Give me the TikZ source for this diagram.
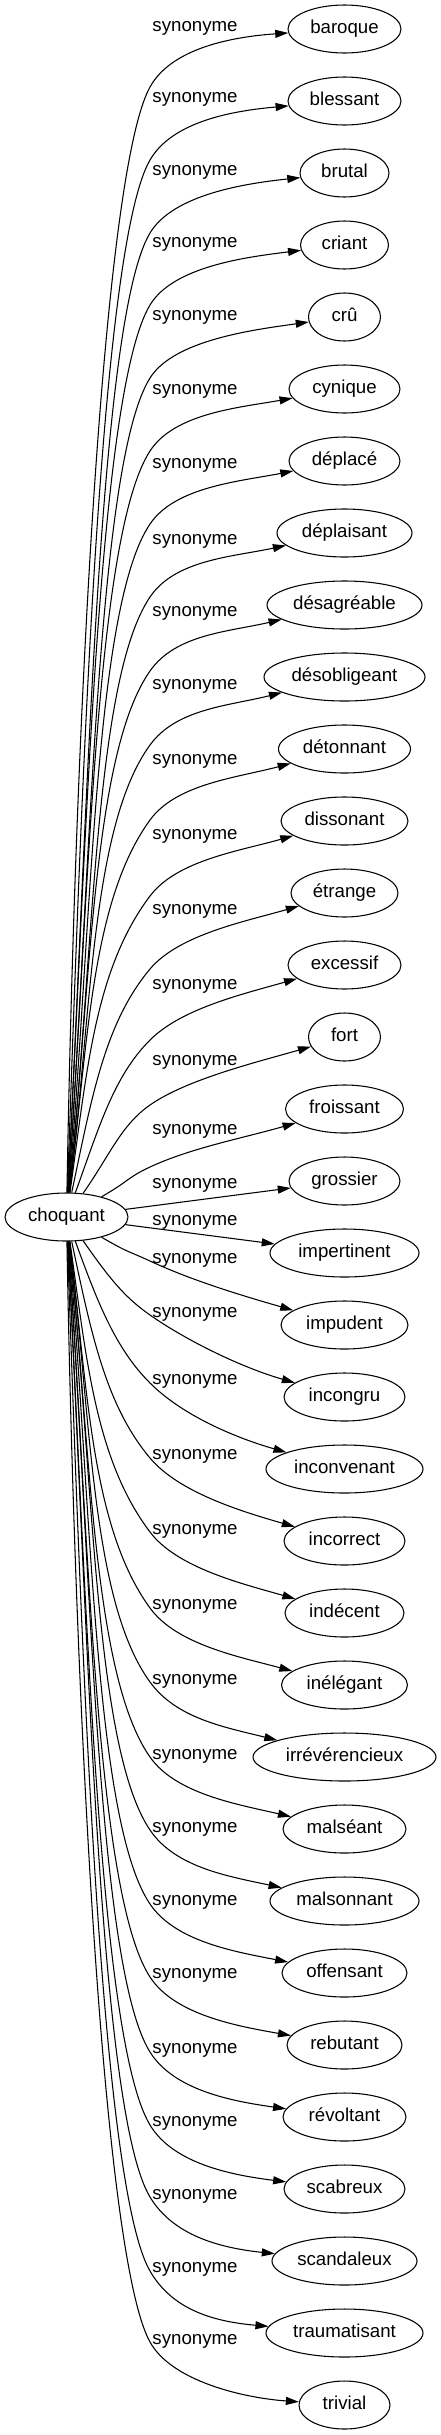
\documentclass[tikz,border=0pt]{standalone}
\usepackage{fontspec}
\setmainfont{Liberation Sans}
\usetikzlibrary{arrows.meta,shapes.geometric}
\begin{document}
\begin{tikzpicture}[x=0.75pt,y=0.75pt,
  every node/.style={font=\fontsize{14pt}{16pt}\selectfont, text height=10pt, text depth=3pt},
  word/.style={draw, ellipse, line width=0.8pt, inner sep=0pt, minimum height=36pt},
  lab/.style={inner sep=0pt},
  syn/.style={draw, line width=0.8pt, -{Triangle[length=9.75pt,width=6pt]}}]
\useasboundingbox (0,0) rectangle (441,-2435);
\node[word, minimum width=92.25pt] (ch) at (66.5,-1217) {choquant};
\foreach \qk/\qtxt/\qwd/\qly in {0/baroque/113/29, 1/blessant/113/100, 2/brutal/89/173, 3/criant/88/245,
  4/crû/72/318, 5/cynique/111/392, 6/déplacé/111/466, 7/déplaisant/135/542, 8/désagréable/155/614,
  9/désobligeant/161/687, 10/détonnant/132/762, 11/dissonant/127/837, 12/étrange/107/912,
  13/excessif/113/987, 14/fort/72/1063, 15/froissant/118/1132, 16/grossier/111/1186,
  17/impertinent/149/1223, 18/impudent/127/1261, 19/incongru/121/1315, 20/inconvenant/157/1382,
  21/incorrect/121/1457, 22/indécent/119/1532, 23/inélégant/126/1607, 24/irrévérencieux/183/1682,
  25/malséant/123/1757, 26/malsonnant/149/1830, 27/offensant/125/1903, 28/rebutant/115/1976,
  29/révoltant/123/2051, 30/scabreux/121/2124, 31/scandaleux/145/2197, 32/traumatisant/157/2270,
  33/trivial/91/2342}{
  \node[word, minimum width=\qwd*0.75pt] (t\qk) at (344.5,{-(29+72*\qk)}) {\qtxt};
  \node[lab] (l\qk) at (195,{-(\qly-2)}) {synonyme};
}
\foreach \qk in {0,...,33}{
  \ifnum\qk<17
    \pgfmathtruncatemacro\qm{16-\qk}
  \else
    \pgfmathtruncatemacro\qm{\qk-17}
  \fi
  \ifnum\qm=0
    \draw[syn] (ch) -- (t\qk);
  \else
    \pgfmathtruncatemacro\qbe{{0,30,55,70,78,82,83,83,84,84,85,86,86,87,87,88,89}[\qm]}
    \pgfmathtruncatemacro\qth{{0,25,35,45,50,53,54,54,55,56,56,57,58,59,59,60,61}[\qm]}
    \pgfmathtruncatemacro\qph{{0,16,16,16,16,16,15,14,13,12,11,10,8,7,6,5,4}[\qm]}
    \ifnum\qk<17
      \pgfmathtruncatemacro\qoff{{0,58,68,75,76,75,71,68,66,64,63,62,61,60,60,59,58}[\qm]}
      \pgfmathsetmacro\qwy{29+72*\qk+\qoff}
      \pgfmathtruncatemacro\qao{\qbe}
      \pgfmathtruncatemacro\qai{180+\qth}
      \pgfmathtruncatemacro\qbo{\qth}
      \pgfmathtruncatemacro\qbi{180+\qph}
    \else
      \pgfmathtruncatemacro\qoff{{0,64,82,86,83,81,77,75,72,71,69,68,65,64,64,62,63}[\qm]}
      \pgfmathsetmacro\qwy{29+72*\qk-\qoff}
      \pgfmathtruncatemacro\qao{360-\qbe}
      \pgfmathtruncatemacro\qai{180-\qth}
      \pgfmathtruncatemacro\qbo{360-\qth}
      \pgfmathtruncatemacro\qbi{180-\qph}
    \fi
    \pgfmathsetmacro\qdv{72*\qm+12-\qoff}
    \pgfmathsetmacro\qdist{\qdv*sqrt(1+(80/\qdv)^2)}
    \pgfmathsetmacro\qLone{0.3*\qdist}
    \pgfmathsetmacro\qLtwo{0.75*min(100,0.3*\qdist)}
    \coordinate (w\qk) at (150,-\qwy);
    \draw[syn] (ch) to[out=\qao,in=\qai,out distance=\qLone pt,in distance=\qLtwo pt] (w\qk)
      to[out=\qbo,in=\qbi,out distance=33.75pt,in distance=41.25pt] (t\qk);
  \fi
}
\end{tikzpicture}
\end{document}
